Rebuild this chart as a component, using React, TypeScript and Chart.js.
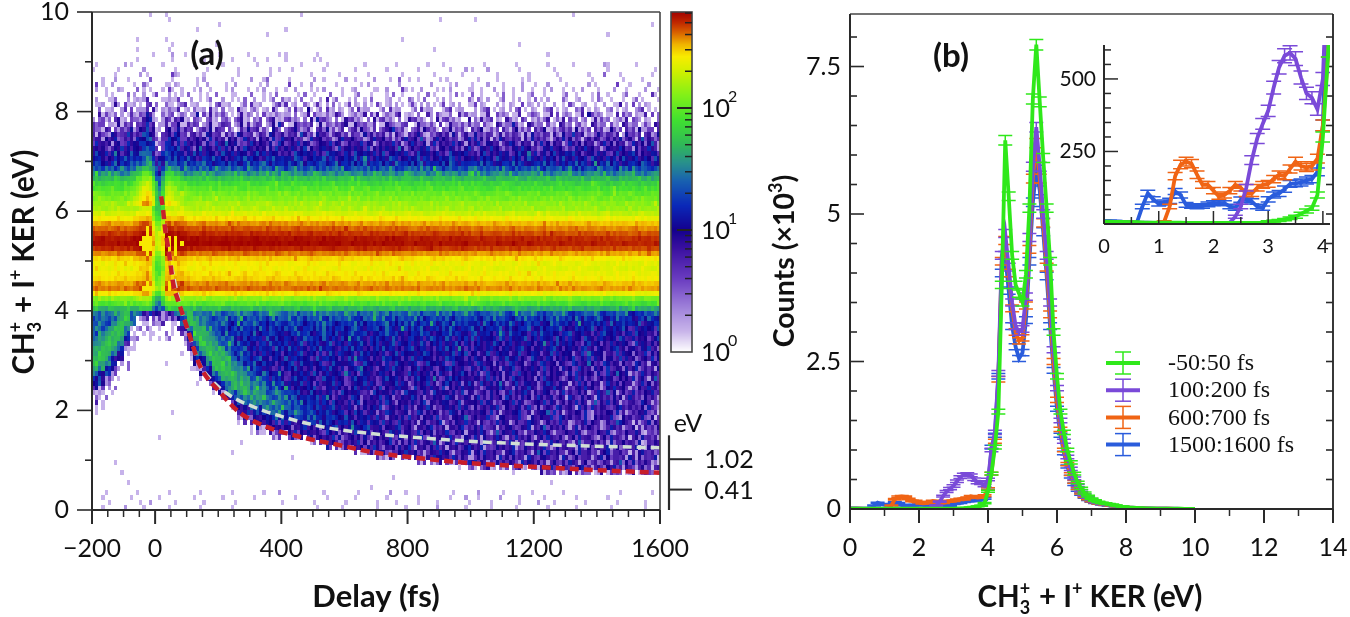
import React, { useEffect, useRef } from "react";
import { Chart, registerables } from "chart.js";
Chart.register(...registerables);

const W = 1350, H = 617;

/* ---------- panel (a) data ---------- */
const delayStart = -200, delayBin = 10, delayBinCount = 180;
const kerBin = 0.1;
// typical counts per 0.1 eV row, 4.0 .. 9.9 eV
const upperKerCounts = [50,90,130,260,390,350,280,260,240,250,290,380,500,575,550,480,415,350,260,200,160,150,125,110,90,75,55,38,24,16,13,11,9,8,7,5.6,4.5,3.5,3,2.4,1.8,1.4,0.9,0.7,0.55,0.42,0.32,0.26,0.22,0.18,0.09,0.09,0.08,0.07,0.07,0.06,0.06,0.05,0.05,0.05];
// background counts above the cut-off, 0 .. 3.9 eV
const lowerKerCounts = [8,8,8,8,8,8,8,8,8,8,8,8,8,8,8,8,8,8,8.5,8.5,9,9,9,9,9.5,9.5,10,10,10,10,11,11,12,12,13,14,15,17,20,26];
// sparse counts below the cut-off, 0 .. 3.9 eV
const sparseKerCounts = [0.2,0.16,0.14,0.12,0.08,0.07,0.07,0.06,0.06,0.06,0.06,0.06,0.05,0.05,0.05,0.05,0.05,0.05,0.05,0.05,0.06,0.06,0.06,0.06,0.06,0.06,0.07,0.07,0.07,0.07,0.08,0.08,0.08,0.09,0.1,0.1,0.12,0.12,0.12,0.12];
// lowest KER reached, per 20 fs from -200 fs
const cutoffKer = [2.5,2.6,2.75,2.9,3.1,3.4,3.75,3.95,4,4,4,4,4,3.95,3.7,3.4,3.12,2.9,2.7,2.55,2.4,2.25,2.1,2,1.9,1.82,1.75,1.7,1.65,1.6,1.56,1.53,1.5,1.47,1.44,1.41,1.38,1.35,1.33,1.3,1.27,1.24,1.21,1.19,1.17,1.15,1.13,1.11,1.09,1.07,1.06,1.05,1.04,1.02,1.01,1,0.99,0.97,0.96,0.95,0.94,0.93,0.92,0.91,0.9,0.89,0.88,0.88,0.87,0.87,0.86,0.85,0.85,0.84,0.83,0.83,0.82,0.81,0.81,0.8,0.8,0.79,0.79,0.78,0.78,0.78,0.77,0.77,0.76,0.76,0.75];
// counts vs height above the cut-off, per 0.1 eV
const wedgeCounts = [8,14,30,45,55,55,50,45,38,30,25,22,20,18,16,15];
const wedgeScaleDelays = [-200,250,300,350,400,450,500,550,600,700,800,900,1000,1300];
const wedgeScaleValues = [1,0.85,0.7,0.55,0.45,0.38,0.3,0.26,0.22,0.18,0.15,0.13,0.11,0.08];
const bgScaleDelays = [-200,100,400,600,800,1000,1300,1500];
const bgScaleValues = [1.2,1.1,1.1,1.05,1,0.95,0.85,0.75];
const bandDelayFactor = [1,1.05,1.05,1.03,1,0.97,0.94,0.92,0.9,0.88];
// per 10 fs from -80 fs
const bandZeroFactor = [1,1.05,1.1,1.15,1.2,1.3,1.1,0.6,0.33,0.33,0.5,1.15,1.2,1.05,1.1,1.15,1.1,1.05];
const wingZeroFactor = [1.2,1.3,1.5,1.8,2.2,2.5,2.2,1.4,0.5,0.35,0.7,1.6,1.8,1.5,1.3,1.2,1.1,1];
// over-range cells, shown yellow: delay, from KER, to KER
const overDelays = [-50,-40,-30,-20,-40,-30,-20,40,40,60,80];
const overFrom = [5.3,5.2,5.1,5.2,4.4,4.4,4.4,5.1,4.4,5.1,5.3];
const overTo = [5.4,5.5,5.7,5.5,4.5,4.6,4.5,5.5,4.6,5.5,5.4];
const speckleTexture = [
"3749158206x375149281605197426350719463510274938152047386127",
"62814057396021584729381x650472163185047926138405172684901573",
"05173628491346052784137690528x1746283059173862401597360248",
"84629501738164205397846295173082x46951073842619503178426059",
"2739184605713928460257391864052017394681520973418605273691",
"519062738451x60273485912067385140692738415906237845109267384",
"73648195207146385920743681592070364198257309481952763148952",
"182057364921850736491082573694120857x649128057364918025736",
"46093718254096317852460971382546037918254360971825469037185",
"92537104689523710684925137046829531704689x53710468297351064",
"3018649572031684957230186945720318469572301864597230816495",
"758219430657281943607582914306758x19430675281943067852194306",
"29463710582964371058294673105829463170582946371950842697105",
"6130582947613058924761305829471x3058294716305829476310582947",
"84719263508471296350847192365084791263508417926350847912635",
"0327459186032745981603274519860327459186032745918x6027451986",
"56921084735692180473569210874356921084375692198473562910847",
"7183962054718369205471839260547138962054781396204x7183692054",
"24057316892405371689240573618924075316892405731869240753168",
"95682430179568423017956824031795682x30179586243017965824301",
"18374096251837049625183740692518347096251837049625813740962",
"427065389142760538914270563891427x65389124706538914720653891",
"69031825746903128574690318527469301825746093182574690381257",
"3051927846305129784630519278463501927846305192x7863051297846",
];
const textureChars = "0123456789x";
const textureDeviation = [-1.8,-1.3,-0.9,-0.6,-0.3,0,0.3,0.7,1.3,3,6];

// colour scale: log10(counts) -> colour
const colorLogs = [0,0.17,0.34,0.6,0.85,1,1.2,1.4,1.55,1.7,1.9,2.1,2.3,2.42,2.52,2.62,2.7,2.79];
const colorHex = ["#ffffff","#c8b4ea","#a488dc","#6a3cc0","#3a10a0","#14008e","#0a28b8","#1860b0","#28908c","#30b858","#40e030","#80f018","#d0f000","#f8ec00","#f0b400","#d86000","#c02800","#a00000"];
const singleCountColor = "#c6b2ea";
const overRangeColor = "#f8e800";
const colorBarMax = 612;

const redDelays = [19,24,31,44,57,76,104,142,205,269,354,459,564,700,840,1000,1220,1400,1600];
const redKers = [6.3,6.1,5.68,5.16,4.56,4.15,3.61,2.9,2.37,1.95,1.67,1.47,1.33,1.15,1.04,0.94,0.86,0.8,0.75];
const whiteDelays = [19,44,76,104,142,180,237,320,400,494,586,840,1090,1350,1600];
const whiteKers = [6.3,5.18,4.2,3.6,2.92,2.6,2.3,2.05,1.88,1.72,1.61,1.45,1.35,1.29,1.25];

/* ---------- panel (b) data: counts per 0.1 eV bin, 0 .. 10 eV ---------- */
const greenCounts = [8,8,7,7,6,6,6,5,5,5,5,5,5,5,5,4,4,4,4,4,4,4,4,4,4,4,4,4,4,5,8,10,12,15,20,25,35,45,55,100,300,600,1050,1650,3800,6250,5300,4300,3800,3650,3500,3980,5100,6950,7870,6900,5950,5100,4200,3000,2250,1650,1300,1000,790,600,450,350,270,220,175,145,120,105,95,85,75,60,50,40,34,28,24,20,16,14,12,10,9,8,7,6,6,5,5,4,4,3,3,3,2];
const purpleCounts = [8,8,7,7,6,6,5,5,5,4,4,4,4,4,4,4,4,4,4,4,4,4,4,5,25,60,125,220,295,345,390,470,540,580,590,570,505,450,435,395,500,1000,1300,2300,4300,4670,4100,3500,3100,3000,3050,3600,4600,5800,6470,5800,5000,4300,3500,2700,2050,1500,1150,880,680,520,400,310,240,195,155,130,108,95,85,75,66,54,45,36,30,25,22,18,14,12,11,9,8,7,6,5,5,4,4,4,3,3,3,2,2];
const orangeCounts = [5,5,5,4,3,3,3,3,2,2,2,8,60,165,205,215,208,170,135,135,115,95,100,115,135,125,105,105,125,135,138,155,170,165,190,215,200,195,200,225,340,600,1150,2200,4200,4550,4000,3400,3000,2850,2900,3450,4400,5600,6200,5600,4850,4100,3300,2500,1850,1350,1000,760,590,460,350,270,210,170,135,115,95,85,75,66,58,48,40,32,26,22,18,15,12,10,9,8,7,6,5,5,4,4,3,3,3,2,2,2,2];
const blueCounts = [10,10,9,8,6,4,4,60,106,85,70,74,80,112,100,66,62,60,62,68,72,72,72,60,55,84,84,78,60,55,85,100,105,120,138,140,143,150,155,180,340,1050,1250,2250,4000,4300,3700,3100,2750,2550,2650,3200,4200,5200,5750,5400,4700,3950,3100,2350,1700,1250,950,720,550,420,320,250,195,155,125,105,88,78,68,60,52,44,36,29,24,20,16,14,11,10,8,7,6,5,5,4,4,3,3,3,2,2,2,2,2];
const seriesNames = ["-50:50 fs","100:200 fs","600:700 fs","1500:1600 fs"];
const seriesColors = ["#2fe81a","#7a4ad8","#f06414","#2a5cdc"];
const seriesCounts = [greenCounts,purpleCounts,orangeCounts,blueCounts];

const yTitleParts = "CH|3|+| + I|+| KER (eV)";

/* ---------- helpers ---------- */
const hexRgb = (h: string) => [1,3,5].map((i) => parseInt(h.slice(i,i+2),16));
function colorForLog(l: number) {
  if (l <= colorLogs[0]) return colorHex[0];
  for (let i = 1; i < colorLogs.length; i++) {
    if (l <= colorLogs[i]) {
      const f = (l - colorLogs[i-1]) / (colorLogs[i] - colorLogs[i-1]);
      const a = hexRgb(colorHex[i-1]), b = hexRgb(colorHex[i]);
      return `rgb(${a.map((v,k)=>Math.round(v+(b[k]-v)*f)).join(",")})`;
    }
  }
  return colorHex[colorHex.length-1];
}
function stepLookup(keys: number[], vals: number[], t: number) {
  let r = vals[0];
  for (let i = 0; i < keys.length; i++) if (t >= keys[i]) r = vals[i];
  return r;
}
function textureAt(row: number, col: number) {
  const tile = Math.floor(col / 60);
  const s = speckleTexture[(row * 7 + tile * 5) % speckleTexture.length];
  const i = (col + row * row * 3 + tile * 23) % s.length;
  const c = s[row % 2 ? s.length - 1 - i : i];
  return textureDeviation[Math.max(0, textureChars.indexOf(c))];
}
function baseCounts(row: number, col: number) {
  const t = delayStart + col * delayBin;
  const E = row * kerBin + kerBin / 2;
  if (row >= 40) {
    let b = upperKerCounts[row - 40] * bandDelayFactor[Math.min(9, Math.floor((t + 200) / 200))];
    const z = (t + 80) / 10;
    if (z >= 0 && z < bandZeroFactor.length) {
      b *= E < 6.1 ? bandZeroFactor[z] : wingZeroFactor[z];
    }
    return b;
  }
  const edge = cutoffKer[Math.min(cutoffKer.length - 1, Math.floor(col / 2))];
  const d = E - edge;
  if (d < 0) {
    if (t < 150) {
      if (d > -0.1) return 8;
      if (d > -0.2) return 4;
      if (d > -0.35) return 2;
      if (d > -0.6) return 0.8;
    } else if (t < 400) {
      if (d > -0.1) return 6;
      if (d > -0.2) return 1.5;
    } else if (d > -0.1) return 3;
    return sparseKerCounts[row];
  }
  const w = wedgeCounts[Math.floor(d / 0.1)] ?? 0;
  const bg = lowerKerCounts[row] * stepLookup(bgScaleDelays, bgScaleValues, t);
  return Math.max(bg, w * stepLookup(wedgeScaleDelays, wedgeScaleValues, t));
}
function buildHeatCells() {
  const out: {x:number;y:number;v:number}[] = [];
  for (let row = 0; row < 100; row++) for (let col = 0; col < delayBinCount; col++) {
    const b = baseCounts(row, col);
    let v = b + textureAt(row, col) * Math.sqrt(b);
    if (b > 40) v = b + textureAt(row, col) * Math.sqrt(b) * 0.7;
    v = v < 20 ? Math.floor(v) : v;
    if (v < 1) continue;
    out.push({ x: delayStart + col * delayBin, y: row * kerBin, v: Math.min(v, colorBarMax) });
  }
  overDelays.forEach((t, i) => {
    for (let e = overFrom[i]; e < overTo[i] - 0.01; e += kerBin) {
      const y = Math.round(e * 10) / 10;
      const c = out.find((p) => p.x === t && Math.abs(p.y - y) < 0.01);
      if (c) c.v = Infinity; else out.push({ x: t, y, v: Infinity });
    }
  });
  return out;
}
const heatCells = buildHeatCells();

type Part = { t: string; size: number; dy?: number; stack?: boolean };
function rich(ctx: CanvasRenderingContext2D, x: number, y: number, rot: number, parts: Part[], weight = "bold", family = "Lato") {
  ctx.save();
  ctx.translate(x, y);
  ctx.rotate(rot);
  ctx.fillStyle = "#111";
  ctx.textBaseline = "alphabetic";
  ctx.textAlign = "left";
  let total = 0;
  for (const p of parts) { ctx.font = `${weight} ${p.size}px ${family}`; if (!p.stack) total += ctx.measureText(p.t).width; }
  let cx = -total / 2;
  for (const p of parts) {
    ctx.font = `${weight} ${p.size}px ${family}`;
    ctx.fillText(p.t, cx, p.dy ?? 0);
    if (!p.stack) cx += ctx.measureText(p.t).width;
  }
  ctx.restore();
}
function kerTitleParts(): Part[] {
  const [a,b,c,d,e,f] = yTitleParts.split("|");
  return [
    { t: a, size: 29.5 },
    { t: c, size: 18, dy: -12, stack: true },
    { t: b, size: 18, dy: 7 },
    { t: " ", size: 6 },
    { t: d, size: 29.5 },
    { t: e, size: 18, dy: -12 },
    { t: f, size: 29.5 },
  ];
}
function line(ctx: CanvasRenderingContext2D, x1:number,y1:number,x2:number,y2:number,w=1.6,c="#2a2a2a"){
  ctx.strokeStyle=c; ctx.lineWidth=w; ctx.beginPath(); ctx.moveTo(x1,y1); ctx.lineTo(x2,y2); ctx.stroke();
}
function fixedBox(rect: number[], yw: number, xh: number) {
  const [l,t,r,b] = rect;
  return { padding: { left: l - yw, top: t, right: W - r, bottom: H - b - xh } };
}
function axis(min:number,max:number,majors:number[],font:any,padding:number,size:number,horizontal:boolean,label:(v:number)=>string,type="linear"){
  return {
    type, min, max, grid:{display:false,drawTicks:false}, border:{display:false},
    afterBuildTicks:(s:any)=>{ s.ticks = majors.map((value)=>({value})); },
    afterFit:(s:any)=>{ if(horizontal) s.height=size; else s.width=size; s.paddingLeft=0;s.paddingRight=0;s.paddingTop=0;s.paddingBottom=0; },
    ticks:{ autoSkip:false, maxRotation:0, minRotation:0, padding, color:"#111", font, callback:(v:any)=>label(Number(v)) },
  };
}
const baseOpts = { responsive:false, animation:false as const, events:[] as any[], plugins:{legend:{display:false},tooltip:{enabled:false}} };

function series(values:number[], maxE=10){
  const out:{x:number;y:number}[]=[];
  values.forEach((y,i)=>{ const x=i*kerBin; if(x<=maxE) out.push({x,y}); });
  return out;
}
const errorBars = (capHalf:number) => ({
  id:"errorBars",
  afterDatasetDraw(chart:any,args:any){
    const ds=chart.data.datasets[args.index]; const {x,y}=chart.scales; const a=chart.chartArea; const c=chart.ctx;
    c.save(); c.beginPath(); c.rect(a.left,a.top,a.width,a.height); c.clip();
    c.strokeStyle=ds.borderColor; c.lineWidth=1.5;
    for(const p of ds.data){
      const e=Math.sqrt(p.y); const px=x.getPixelForValue(p.x);
      const y1=y.getPixelForValue(p.y-e), y2=y.getPixelForValue(p.y+e);
      c.beginPath(); c.moveTo(px,y1);c.lineTo(px,y2);
      c.moveTo(px-capHalf,y1);c.lineTo(px+capHalf,y1);
      c.moveTo(px-capHalf,y2);c.lineTo(px+capHalf,y2); c.stroke();
    }
    c.restore();
  }
});

/* ---------- App ---------- */
export default function App(){
  const r1=useRef<HTMLCanvasElement>(null), r2=useRef<HTMLCanvasElement>(null), r3=useRef<HTMLCanvasElement>(null), r4=useRef<HTMLCanvasElement>(null);
  useEffect(()=>{
    const tick={family:"Lato",size:25};
    const charts:Chart[]=[];
    // (a) heat map
    const heatPlugin={
      id:"heat",
      beforeDatasetsDraw(ch:any){
        const {x,y}=ch.scales; const c=ch.ctx;
        for(const p of ch.data.datasets[0].data){
          const x1=Math.round(x.getPixelForValue(p.x)), x2=Math.round(x.getPixelForValue(p.x+delayBin));
          const y1=Math.round(y.getPixelForValue(p.y+kerBin)), y2=Math.round(y.getPixelForValue(p.y));
          c.fillStyle= p.v===Infinity?overRangeColor: p.v<2?singleCountColor:colorForLog(Math.log10(p.v));
          c.fillRect(x1,y1,x2-x1,y2-y1);
        }
      },
      afterDraw(ch:any){
        const c=ch.ctx; const {x,y}=ch.scales; const a=ch.chartArea;
        line(c,a.left,a.top,a.right,a.top,1.6,"#444"); line(c,a.right,a.top,a.right,a.bottom,1.6,"#444");
        line(c,a.left,a.top,a.left,a.bottom,2); line(c,a.left,a.bottom,a.right,a.bottom,2);
        for(let v=0;v<=10;v++){const py=y.getPixelForValue(v); line(c,a.left-(v%2?7:15),py,a.left,py,1.6);}
        for(let v=-200;v<=1600;v+=50){
          const px=x.getPixelForValue(v); const maj=v===-200||(v>=0&&v%400===0);
          line(c,px,a.bottom,px,a.bottom+(maj?14:7),maj?2:1.5);
        }
        rich(c,34,262,-Math.PI/2,kerTitleParts());
        rich(c,376,607,0,[{t:"Delay (fs)",size:31}]);
        rich(c,207,65,0,[{t:"(a)",size:33}]);
        // energy marks at the right, on the same KER scale
        const px=669;
        line(c,px,y.getPixelForValue(1.5),px,a.bottom,2.2);
        [1.02,0.41].forEach((v)=>{const py=y.getPixelForValue(v); line(c,px,py,692,py,2);
          rich(c,729,py+9,0,[{t:v.toFixed(2),size:25}],"normal");});
        rich(c,688,432,0,[{t:"eV",size:25}],"normal");
      }
    };
    charts.push(new Chart(r1.current!,{
      type:"scatter",
      data:{datasets:[
        {label:"counts",data:heatCells,pointRadius:0,showLine:false} as any,
        {label:"red",data:redDelays.map((x,i)=>({x,y:redKers[i]})),showLine:true,pointRadius:0,borderColor:"#c81e2a",borderWidth:4.5,borderDash:[9,5],cubicInterpolationMode:"monotone"},
        {label:"white",data:whiteDelays.map((x,i)=>({x,y:whiteKers[i]})),showLine:true,pointRadius:0,borderColor:"#d2e0d4",borderWidth:3.5,borderDash:[9,5],cubicInterpolationMode:"monotone"},
      ]},
      options:{...baseOpts,layout:fixedBox([92,12,660,510],80,70),
        scales:{
          x:axis(-200,1600,[-200,0,400,800,1200,1600],tick,24,70,true,(v)=>v<0?"\u2212"+Math.abs(v):String(v)) as any,
          y:axis(0,10,[0,2,4,6,8,10],tick,23,80,false,(v)=>String(v)) as any,
        }},
      plugins:[heatPlugin],
    } as any));
    // colour bar
    const barPlugin={
      id:"bar",
      beforeDatasetsDraw(ch:any){
        const {y}=ch.scales; const a=ch.chartArea; const c=ch.ctx;
        for(let py=Math.floor(a.top);py<a.bottom;py++){
          const v=y.getValueForPixel(py+0.5);
          c.fillStyle=colorForLog(Math.log10(v)); c.fillRect(a.left,py,a.width,1);
        }
      },
      afterDraw(ch:any){
        const {y}=ch.scales; const a=ch.chartArea; const c=ch.ctx;
        c.strokeStyle="#444"; c.lineWidth=1.6; c.strokeRect(a.left,a.top,a.width,a.height);
        [1,10,100].forEach((dec)=>{
          for(let m=1;m<=9;m++){ const v=dec*m; if(v>colorBarMax||v===1) continue;
            const py=y.getPixelForValue(v); line(c,a.right-(m===1?15:7),py,a.right,py,m===1?2:1.5,"#222"); }
        });
        const labels:[number,string][]=[[1,"0"],[10,"1"],[100,"2"]];
        labels.forEach(([v,e])=>{
          const py=y.getPixelForValue(v);
          c.save(); c.font="25px Lato"; c.fillStyle="#111"; c.textAlign="left"; c.textBaseline="alphabetic";
          c.fillText("10",701,py+9); c.font="16px Lato"; c.fillText(e,728,py-6); c.restore();
        });
      }
    };
    charts.push(new Chart(r2.current!,{
      type:"scatter",
      data:{datasets:[{label:"scale",data:[],pointRadius:0}]},
      options:{...baseOpts,layout:fixedBox([671,12,692,352],2,2),
        scales:{
          x:{...axis(0,1,[],tick,0,2,true,()=>""),ticks:{display:false}} as any,
          y:{...axis(1,colorBarMax,[],tick,0,2,false,()=>"","logarithmic"),ticks:{display:false}} as any,
        }},
      plugins:[barPlugin],
    } as any));
    // (b) spectra; Chart.js paints the first dataset last, so green stays on top
    const order=[0,1,2,3];
    const specPlugin={
      id:"spec",
      afterDraw(ch:any){
        const c=ch.ctx; const {x,y}=ch.scales; const a=ch.chartArea;
        line(c,a.left,a.top,a.right,a.top,1.6,"#444"); line(c,a.right,a.top,a.right,a.bottom,1.8,"#222");
        line(c,a.left,a.top,a.left,a.bottom,2); line(c,a.left,a.bottom,a.right,a.bottom,2);
        for(let v=0;v<=8000;v+=500){
          const py=y.getPixelForValue(v); const maj=v%2500===0;
          line(c,a.left,py,a.left+(maj?14:7),py,1.6); line(c,a.right-7,py,a.right,py,1.6);
        }
        for(let v=0;v<=14;v++){ const px=x.getPixelForValue(v); line(c,px,a.bottom,px,a.bottom+(v%2?7:14),v%2?1.5:2); }
        rich(c,794,261,-Math.PI/2,[{t:"Counts (\u00d710",size:28.5},{t:"3",size:18,dy:-12},{t:")",size:28.5}]);
        rich(c,1090,607,0,kerTitleParts());
        rich(c,951,67,0,[{t:"(b)",size:33}]);
        // legend
        seriesNames.forEach((n,i)=>{
          const py=363+i*27.2; const col=seriesColors[i];
          line(c,1106,py,1140,py,4,col);
          line(c,1123,py-11,1123,py+11,1.5,col); line(c,1115,py-11,1131,py-11,1.5,col); line(c,1115,py+11,1131,py+11,1.5,col);
          c.save(); c.font="24px 'Liberation Serif'"; c.fillStyle="#111"; c.textAlign="left"; c.textBaseline="middle"; c.fillText(n,1168,py+1); c.restore();
        });
      }
    };
    const lineSets=(maxE:number)=>order.map((i)=>({label:seriesNames[i],data:series(seriesCounts[i],maxE),showLine:true,pointRadius:0,borderColor:seriesColors[i],borderWidth:3.8,tension:0}));
    charts.push(new Chart(r3.current!,{
      type:"scatter",
      data:{datasets:lineSets(10)},
      options:{...baseOpts,layout:fixedBox([850,14,1333,509],80,70),
        scales:{
          x:axis(0,14,[0,2,4,6,8,10,12,14],tick,24,70,true,(v)=>String(v)) as any,
          y:axis(0,8390,[0,2500,5000,7500],tick,9,80,false,(v)=>String(v/1000)) as any,
        }},
      plugins:[errorBars(7),specPlugin],
    } as any));
    // inset
    const insetPlugin={
      id:"inset",
      afterDraw(ch:any){
        const c=ch.ctx; const {x,y}=ch.scales; const a=ch.chartArea;
        line(c,a.left,a.top,a.left,a.bottom,2); line(c,a.left,a.bottom,a.right,a.bottom,2);
        for(let v=0;v<=600;v+=50){ const py=y.getPixelForValue(v); line(c,a.left,py,a.left+(v%250===0?14:7),py,1.5); }
        for(let v=0;v<=8;v++){ const px=x.getPixelForValue(v*0.5); line(c,px,a.bottom,px,a.bottom-(v%2?7:13),1.5); }
      }
    };
    charts.push(new Chart(r4.current!,{
      type:"scatter",
      data:{datasets:lineSets(4.3)},
      options:{...baseOpts,layout:fixedBox([1104,45,1330,224],60,40),
        scales:{
          x:axis(0,4.13,[0,1,2,3,4],{family:"Lato",size:20},11,40,true,(v)=>String(v)) as any,
          y:axis(0,617,[250,500],{family:"Lato",size:21},8,60,false,(v)=>String(v)) as any,
        }},
      plugins:[errorBars(7.5),insetPlugin],
    } as any));
    return ()=>charts.forEach((c)=>c.destroy());
  },[]);
  const st:React.CSSProperties={position:"absolute",left:0,top:0,width:W,height:H};
  return <div style={{position:"absolute",left:0,top:0,width:W,height:H,overflow:"hidden",background:"#fff"}}>
    <canvas ref={r1} width={W} height={H} style={st}/>
    <canvas ref={r2} width={W} height={H} style={st}/>
    <canvas ref={r3} width={W} height={H} style={st}/>
    <canvas ref={r4} width={W} height={H} style={st}/>
  </div>;
}
